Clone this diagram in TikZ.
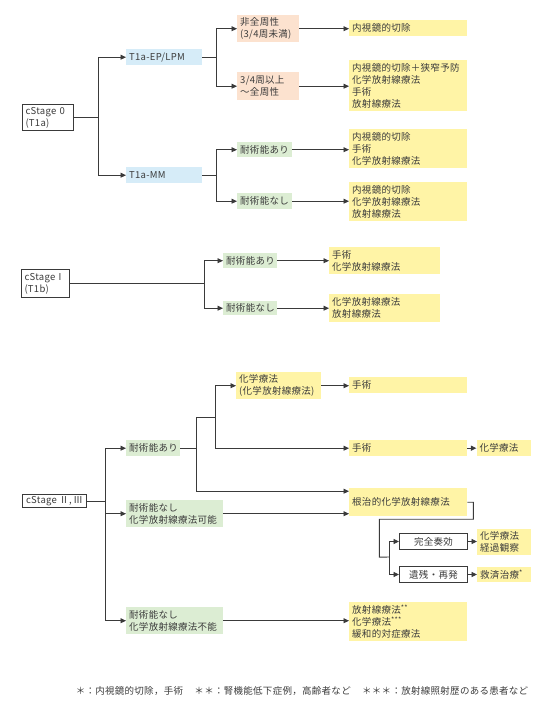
\documentclass[tikz,border=0pt]{standalone}
\usepackage{fontspec}
\setmainfont[LetterSpace=3]{Noto Sans CJK JP}
\usepackage{xcolor}
\usepackage{tikz}
\usetikzlibrary{arrows.meta, positioning, calc}
\definecolor{linegray}{HTML}{3A3A3A}
\definecolor{textgray}{HTML}{3C3C3C}
\definecolor{typeblue}{HTML}{D6ECF8}
\definecolor{lesionpeach}{HTML}{FCE2CF}
\definecolor{abilitygreen}{HTML}{DCEDD3}
\definecolor{therapyyellow}{HTML}{FFF4A6}
\newcommand{\nt}[1]{\raisebox{2.5pt}{\fontsize{7}{7}\selectfont #1}}

\begin{document}
\begin{tikzpicture}[
    x=1pt, y=-1pt,
    every node/.style={font=\fontsize{9.5}{12}\selectfont, text=textgray, align=left,
                       anchor=north west, inner xsep=3pt, inner ysep=1.5pt},
    stage/.style={rectangle, draw=linegray, line width=1pt, fill=white},
    subtype/.style={rectangle, fill=typeblue},
    lesion/.style={rectangle, fill=lesionpeach},
    ability/.style={rectangle, fill=abilitygreen},
    therapy/.style={rectangle, fill=therapyyellow},
    result/.style={rectangle, draw=linegray, line width=1pt, fill=white, align=center},
    sz/.style n args={2}{text width=#1, minimum height=#2},
    arrow/.style={-{Triangle[length=5.5pt, width=5pt]}, linegray, line width=0.9pt},
    link/.style={linegray, line width=0.9pt}
]
\useasboundingbox (0,0) rectangle (555,701);

% --- cStage 0 ---
\node[stage, sz={45pt}{26pt}] (s0) at (22,104) {cStage 0\\(T1a)};
\node[subtype, sz={70pt}{16pt}] (ep) at (126,49) {T1a-EP/LPM};
\node[subtype, sz={70pt}{16pt}] (mm) at (126,167) {T1a-MM};
\node[lesion, sz={56pt}{27pt}] (nc) at (237,15) {非全周性\\(3/4周未満)};
\node[lesion, sz={56pt}{28pt}] (fc) at (237,72) {3/4周以上\\～全周性};
\node[ability, sz={49pt}{15pt}] (a0) at (237,142) {耐術能あり};
\node[ability, sz={49pt}{16pt}] (n0) at (237,193) {耐術能なし};
\node[therapy, sz={112pt}{16pt}] (t1) at (349,20) {内視鏡的切除};
\node[therapy, sz={112pt}{51pt}] (t2) at (349,60) {内視鏡的切除＋狭窄予防\\化学放射線療法\\手術\\放射線療法};
\node[therapy, sz={112pt}{39pt}] (t3) at (349,129) {内視鏡的切除\\手術\\化学放射線療法};
\node[therapy, sz={112pt}{39pt}] (t4) at (349,182) {内視鏡的切除\\化学放射線療法\\放射線療法};

% --- cStage I ---
\node[stage, sz={42pt}{28pt}] (s1) at (21,269) {cStage I\\(T1b)};
\node[ability, sz={48pt}{15pt}] (a1) at (223,253) {耐術能あり};
\node[ability, sz={48pt}{14pt}] (n1) at (223,301) {耐術能なし};
\node[therapy, sz={105pt}{27pt}] (t5) at (329,247) {手術\\化学放射線療法};
\node[therapy, sz={105pt}{28pt}] (t6) at (329,294) {化学放射線療法\\放射線療法};

% --- cStage II, III ---
\node[stage, minimum width=64pt, minimum height=13pt, inner xsep=2pt, inner ysep=0.5pt] (s2) at (22,494) {cStage Ⅱ,\,Ⅲ};
\node[ability, sz={48pt}{16pt}] (a2) at (126,440) {耐術能あり};
\node[ability, sz={91pt}{27pt}] (nk) at (126,500) {耐術能なし\\化学放射線療法可能};
\node[ability, sz={91pt}{27pt}] (nf) at (126,607) {耐術能なし\\化学放射線療法不能};
\node[therapy, sz={79pt}{27pt}] (chemo) at (236,372) {化学療法\\(化学放射線療法)};
\node[therapy, sz={112pt}{16pt}] (sj1) at (349,377) {手術};
\node[therapy, sz={112pt}{16pt}] (sj2) at (349,440) {手術};
\node[therapy, sz={48pt}{16pt}, right=9pt of sj2] (ch2) {化学療法};
\node[therapy, sz={112pt}{28pt}] (cr) at (349,488) {根治的化学放射線療法};
\node[result, sz={62pt}{16pt}] (cr1) at (399,533) {完全奏効};
\node[result, sz={62pt}{16pt}] (cr2) at (399,566) {遺残・再発};
\node[therapy, sz={48pt}{26pt}, right=9pt of cr1] (f1) {化学療法\\経過観察};
\node[therapy, sz={48pt}{15pt}, right=9pt of cr2] (f2) {救済治療\nt{*}};
\node[therapy, sz={112pt}{39pt}] (pal) at (349,602) {放射線療法\nt{**}\\化学療法\nt{***}\\緩和的対症療法};

% --- Footnote ---
\node[anchor=center] (note) at (302,691)
  {＊：内視鏡的切除，手術\hspace{1.2em}＊＊：腎機能低下症例，高齢者など\hspace{1.2em}＊＊＊：放射線照射歴のある患者など};

% --- Arrows: cStage 0 ---
\draw[arrow] (s0.east) -- ++(24,0) |- (ep.west);
\draw[arrow] (s0.east) -- ++(24,0) |- (mm.west);
\draw[arrow] (ep.east) -- ++(14,0) |- (nc.west);
\draw[arrow] (ep.east) -- ++(14,0) |- (fc.west);
\draw[arrow] (mm.east) -- ++(14,0) |- (a0.west);
\draw[arrow] (mm.east) -- ++(14,0) |- (n0.west);
\draw[arrow] (nc.east) -- (nc.east -| t1.west);
\draw[arrow] (fc.east) -- (fc.east -| t2.west);
\draw[arrow] (a0.east) -- (a0.east -| t3.west);
\draw[arrow] (n0.east) -- (n0.east -| t4.west);

% --- Arrows: cStage I ---
\draw[arrow] (s1.east) -- ++(134,0) |- (a1.west);
\draw[arrow] (s1.east) -- ++(134,0) |- (n1.west);
\draw[arrow] (a1.east) -- (a1.east -| t5.west);
\draw[arrow] (n1.east) -- (n1.east -| t6.west);

% --- Arrows: cStage II, III ---
\coordinate (ja) at (196,417);
\coordinate (jb) at (215,417);
\coordinate (jc) at (389,557);
\draw[arrow] (s2.east) -- ++(18,0) |- (a2.west);
\draw[arrow] (s2.east) -- ++(18,0) |- (nk.west);
\draw[arrow] (s2.east) -- ++(18,0) |- (nf.west);
\draw[link] (a2.east) -| (ja) -- (jb);
\draw[arrow] (a2.east -| ja) |- ([yshift=11pt]cr.west);
\draw[arrow] (jb) |- (chemo.west);
\draw[arrow] (jb) |- (sj2.west);
\draw[arrow] (chemo.east) -- (chemo.east -| sj1.west);
\draw[arrow] (sj2) -- (ch2);
\draw[arrow] (nk.east) -- (nk.east -| cr.west);
\draw[link] (cr.east) -- ++(6,0) -- ++(0,17) -- ++(-94,0) -- ++(0,38) -- (jc);
\draw[arrow] (jc) |- (cr1.west);
\draw[arrow] (jc) |- (cr2.west);
\draw[arrow] (cr1) -- (f1);
\draw[arrow] (cr2) -- (f2);
\draw[arrow] (nf.east) -- (nf.east -| pal.west);

\end{tikzpicture}
\end{document}
